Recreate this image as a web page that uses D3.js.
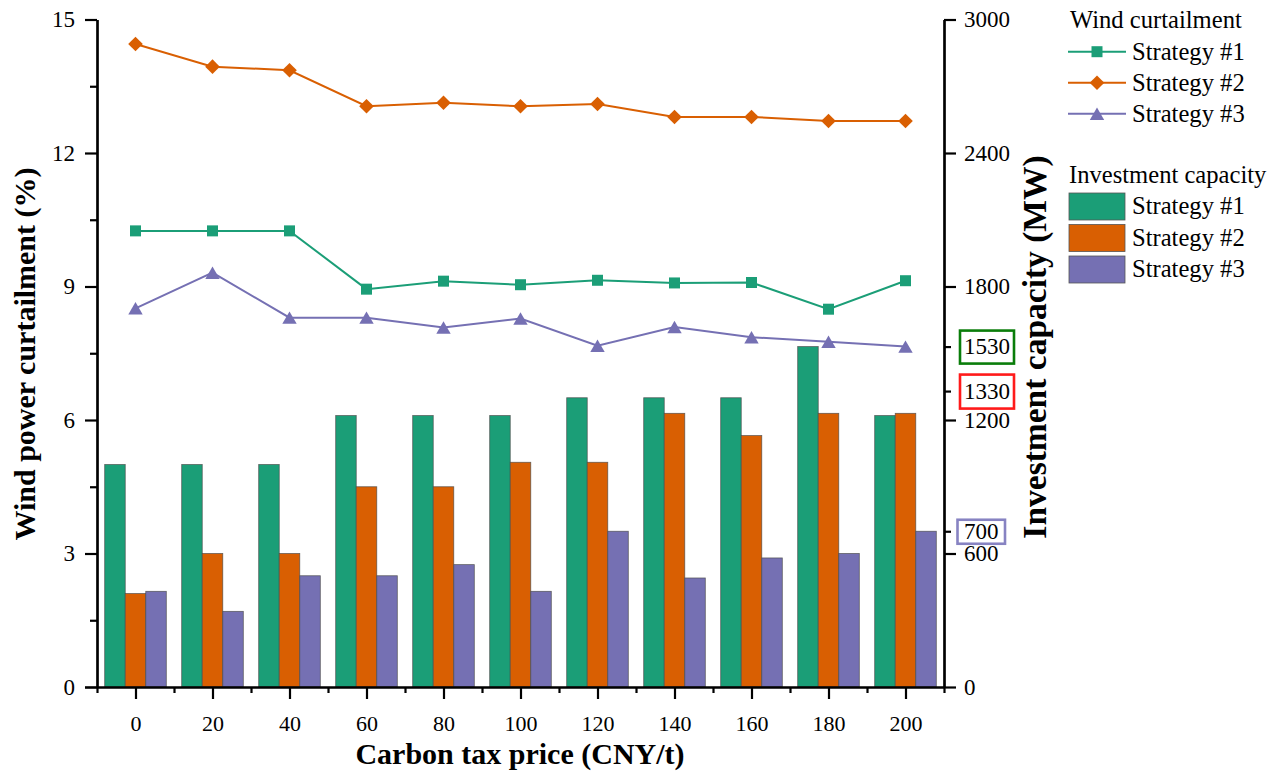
<!DOCTYPE html>
<html>
<head>
<meta charset="utf-8">
<script src="https://cdn.jsdelivr.net/npm/d3@7"></script>
<style>
  html, body { margin: 0; padding: 0; background: #ffffff; }
  svg { display: block; font-family: "Liberation Serif", "Times New Roman", Times, serif; }
  svg text { font-family: "Liberation Serif", "Times New Roman", Times, serif; }
</style>
</head>
<body>
<svg id="chart" width="1283" height="771"></svg>
<script>
// ---------------- DATA ----------------
const categories = [0, 20, 40, 60, 80, 100, 120, 140, 160, 180, 200];
const seriesNames = ["Strategy #1", "Strategy #2", "Strategy #3"];
// Wind curtailment (%) – left axis
const windS1 = [10.25, 10.25, 10.25, 8.94, 9.12, 9.04, 9.14, 9.08, 9.09, 8.49, 9.13];
const windS2 = [14.45, 13.94, 13.86, 13.05, 13.13, 13.05, 13.10, 12.81, 12.81, 12.72, 12.72];
const windS3 = [8.51, 9.31, 8.30, 8.30, 8.08, 8.28, 7.67, 8.09, 7.86, 7.76, 7.65];
// Investment capacity (MW) – right axis
const capS1 = [1000, 1000, 1000, 1220, 1220, 1220, 1300, 1300, 1300, 1530, 1220];
const capS2 = [420, 600, 600, 900, 900, 1010, 1010, 1230, 1130, 1230, 1230];
const capS3 = [430, 340, 500, 500, 550, 430, 700, 490, 580, 600, 700];
// Tick labels
const leftTicks = [0, 3, 6, 9, 12, 15];
const leftMinor = [1.5, 4.5, 7.5, 10.5, 13.5];
const rightTicks = [0, 600, 1200, 1800, 2400, 3000];
const rightMarked = [1530, 1330, 700];
const xTicks = categories;
const xMinor = [-10, 10, 30, 50, 70, 90, 110, 130, 150, 170, 190, 210];

// ---------------- STYLE ----------------
const colors = ["#1b9e77", "#d95f02", "#7570b3"];
const boxColors = { 1530: "#0a7d0a", 1330: "#ff1a1a", 700: "#8783c2" };
const boxPad = { 1530: [4, 16.5], 1330: [4, 17], 700: [6.5, 12] };
const FONT = '"Liberation Serif", "Times New Roman", Times, serif';

const svg = d3.select("#chart");
const L = 97, R = 944, T = 19.5, B = 687;

const xLin = d3.scaleLinear().domain([-10, 210]).range([L, R]);
const x0 = d3.scaleBand().domain(categories).range([L, R]).paddingInner(0.2).paddingOuter(0.1);
const x1 = d3.scaleBand().domain([0, 1, 2]).range([0, x0.bandwidth()]);
const yL = d3.scaleLinear().domain([0, 15]).range([B, T]);
const yR = d3.scaleLinear().domain([0, 3000]).range([B, T]);

// ---------------- BARS ----------------
const caps = [capS1, capS2, capS3];
const gBars = svg.append("g");
caps.forEach((arr, si) => {
  gBars.selectAll(null).data(categories).enter().append("rect")
    .attr("x", (c) => x0(c) + x1(si))
    .attr("width", x1.bandwidth())
    .attr("y", (c, i) => yR(arr[i]))
    .attr("height", (c, i) => B - yR(arr[i]))
    .attr("fill", colors[si])
    .attr("stroke", "#4a4a4a")
    .attr("stroke-width", 0.8)
    .attr("stroke-opacity", 0.8);
});

// ---------------- LINES ----------------
const winds = [windS1, windS2, windS3];
function markerPath(si, s) {
  if (si === 0) { const h = 5.5 * s; return `M${-h},${-h}H${h}V${h}H${-h}Z`; }
  if (si === 1) { const h = 7.3 * s; return `M0,${-h}L${h},0L0,${h}L${-h},0Z`; }
  const w = 7.2 * s, h = 6.2 * s; return `M0,${-h}L${w},${h}L${-w},${h}Z`;
}
const line = d3.line().x((d) => xLin(d[0])).y((d) => yL(d[1]));
winds.forEach((arr, si) => {
  const pts = categories.map((c, i) => [c, arr[i]]);
  svg.append("path").datum(pts).attr("d", line)
    .attr("fill", "none").attr("stroke", colors[si]).attr("stroke-width", 2);
  svg.append("g").selectAll("path").data(pts).enter().append("path")
    .attr("transform", (d) => `translate(${xLin(d[0])},${yL(d[1])})`)
    .attr("d", markerPath(si, 1))
    .attr("fill", colors[si]);
});

// ---------------- AXES ----------------
const axisFont = 23;
const fmt = d3.format("d");
function styleAxis(g) {
  g.attr("font-family", FONT);
  g.selectAll("path.domain").attr("stroke", "#000").attr("stroke-width", 2.2);
  g.selectAll(".tick line").attr("stroke", "#000").attr("stroke-width", 2.2);
  g.selectAll("text").attr("font-family", FONT).attr("font-size", axisFont).attr("fill", "#000");
}
// x axis
const gx = svg.append("g").attr("transform", `translate(0,${B})`)
  .call(d3.axisBottom(xLin).tickValues(xTicks).tickSize(12).tickSizeOuter(0).tickPadding(16).tickFormat(fmt));
styleAxis(gx);
gx.selectAll("text").attr("dy", "0.71em").attr("font-size", 22);
const gxm = svg.append("g").attr("transform", `translate(0,${B})`)
  .call(d3.axisBottom(xLin).tickValues(xMinor).tickSize(6).tickSizeOuter(0).tickFormat(""));
styleAxis(gxm);
gxm.select("path.domain").attr("d", `M${L - 12},0.5H${R + 1}`);

// left axis
const gl = svg.append("g").attr("transform", `translate(${L},0)`)
  .call(d3.axisLeft(yL).tickValues(leftTicks).tickSize(12).tickSizeOuter(0).tickPadding(10).tickFormat(fmt));
styleAxis(gl);
const glm = svg.append("g").attr("transform", `translate(${L},0)`)
  .call(d3.axisLeft(yL).tickValues(leftMinor).tickSize(7).tickSizeOuter(0).tickFormat(""));
styleAxis(glm);

// right axis
const gr = svg.append("g").attr("transform", `translate(${R},0)`)
  .call(d3.axisRight(yR).tickValues(rightTicks).tickSize(12).tickSizeOuter(0).tickPadding(8).tickFormat(fmt));
styleAxis(gr);
const grm = svg.append("g").attr("transform", `translate(${R},0)`)
  .call(d3.axisRight(yR).tickValues(rightMarked).tickSize(7).tickSizeOuter(0).tickPadding(13).tickFormat(fmt));
styleAxis(grm);
grm.selectAll(".tick").each(function (d) {
  const g = d3.select(this);
  const t = g.select("text");
  const bb = t.node().getBBox();
  const [px, py] = boxPad[d];
  g.insert("rect", "text")
    .attr("x", bb.x - px).attr("y", -py)
    .attr("width", bb.width + 2 * px).attr("height", 2 * py)
    .attr("fill", "#fff").attr("stroke", boxColors[d]).attr("stroke-width", 2.6);
});

// axis titles
svg.append("text").attr("x", 520).attr("y", 764).attr("text-anchor", "middle")
  .attr("font-weight", "bold").attr("font-size", 30).text("Carbon tax price (CNY/t)");
svg.append("text").attr("transform", "translate(34.5,354) rotate(-90)").attr("text-anchor", "middle")
  .attr("font-weight", "bold").attr("font-size", 30).text("Wind power curtailment (%)");
svg.append("text").attr("transform", "translate(1046,347) rotate(-90)").attr("text-anchor", "middle")
  .attr("font-weight", "bold").attr("font-size", 33.5).text("Investment capacity (MW)");

// ---------------- LEGEND ----------------
const lg = svg.append("g").attr("font-family", FONT);
const legFont = 24.6;
lg.append("text").attr("x", 1070).attr("y", 28).attr("font-size", legFont).text("Wind curtailment");
seriesNames.forEach((name, si) => {
  const yy = 51.7 + si * 31;
  lg.append("line").attr("x1", 1068).attr("x2", 1126).attr("y1", yy).attr("y2", yy)
    .attr("stroke", colors[si]).attr("stroke-width", 2);
  lg.append("path").attr("transform", `translate(1097,${yy})`).attr("d", markerPath(si, 1)).attr("fill", colors[si]);
  lg.append("text").attr("x", 1132).attr("y", yy + 8).attr("font-size", legFont).text(name);
});
lg.append("text").attr("x", 1069).attr("y", 183).attr("font-size", legFont).text("Investment capacity");
seriesNames.forEach((name, si) => {
  const yy = 193 + si * 31.5;
  lg.append("rect").attr("x", 1069).attr("y", yy).attr("width", 56).attr("height", 27)
    .attr("fill", colors[si]).attr("stroke", "#555").attr("stroke-width", 0.8);
  lg.append("text").attr("x", 1132).attr("y", yy + 21).attr("font-size", legFont).text(name);
});
</script>
</body>
</html>
